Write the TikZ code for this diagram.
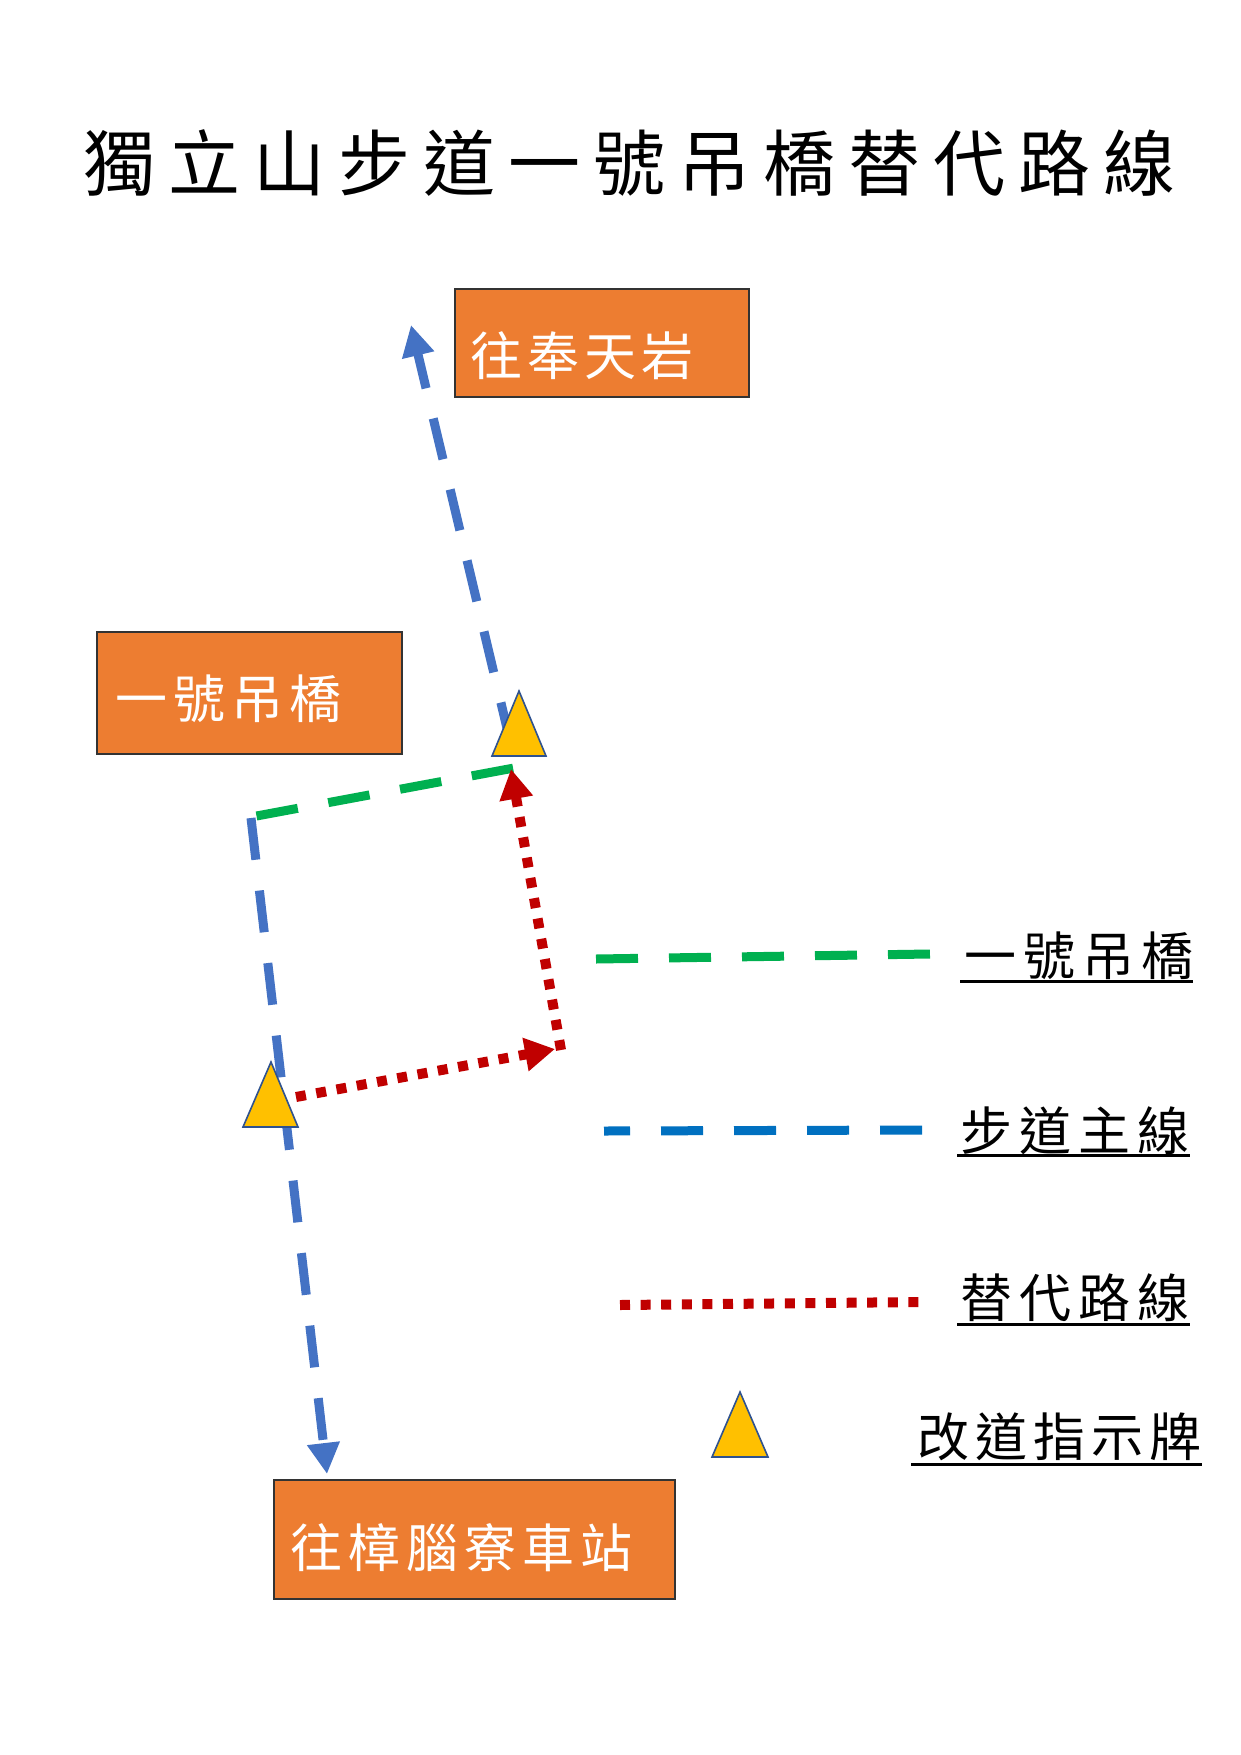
\documentclass[tikz,border=0pt]{standalone}
\usepackage{fontspec}
\newfontfamily\cjk{Noto Sans CJK TC}
\usetikzlibrary{arrows.meta,calc}
\definecolor{boxorange}{HTML}{ED7D31}
\definecolor{mainblue}{HTML}{4472C4}
\definecolor{legblue}{HTML}{0070C0}
\definecolor{brgreen}{HTML}{00B050}
\definecolor{altred}{HTML}{C00000}
\definecolor{signfill}{HTML}{FFC000}
\definecolor{signedge}{HTML}{2F528F}
\newlength\chpitch
\def\spreadloop#1{\ifx#1\relax\else\makebox[\chpitch][l]{#1}\expandafter\spreadloop\fi}
\newcommand\spreadtext[2]{\setlength\chpitch{#1}\spreadloop#2\relax}
\begin{document}
\begin{tikzpicture}[x=1pt,y=-1pt,
  box/.style={draw=black!80, line width=1.5pt, fill=boxorange, inner sep=0pt, anchor=north west},
  boxtext/.style={text=white, font=\cjk\fontsize{52}{60}\selectfont, inner sep=0pt, anchor=base west},
  legtext/.style={text=black, font=\cjk\fontsize{52}{60}\selectfont, inner sep=0pt, anchor=base west},
  titletext/.style={text=black, font=\cjk\fontsize{72}{84}\selectfont, inner sep=0pt, anchor=base west},
  mainpath/.style={draw=mainblue, line width=9pt, dash pattern=on 42pt off 31pt},
  legmain/.style={draw=legblue, line width=9pt, dash pattern=on 42pt off 31pt},
  bridgepath/.style={draw=brgreen, line width=9pt, dash pattern=on 42pt off 31pt},
  altpath/.style={draw=altred, line width=10pt, dash pattern=on 10pt off 10.6pt},
  bluetip/.style={-{Triangle[length=31pt,width=31pt]}},
  bluetipstart/.style={{Triangle[length=31pt,width=31pt]}-},
  redtip/.style={-{Triangle[length=30pt,width=32pt]}},
  signtri/.style={fill=signfill, draw=signedge, line width=1.6pt, line join=miter},
  uline/.style={draw=black, line width=3pt}]
\useasboundingbox (0,0) rectangle (1241,1755);
\fill[white] (0,0) rectangle (1241,1755);

% title
\node[titletext] (title) at (83,190) {\spreadtext{85pt}{獨立山步道一號吊橋替代路線}};

% boxes
\node[box, minimum width=294pt, minimum height=108pt] (fengtian) at (454,288) {};
\node[boxtext] (fengtiantxt) at (470,375) {\spreadtext{57pt}{往奉天岩}};
\node[box, minimum width=305pt, minimum height=122pt] (bridge) at (96,631) {};
\node[boxtext] (bridgetxt) at (115,718) {\spreadtext{58pt}{一號吊橋}};
\node[box, minimum width=401pt, minimum height=119pt] (station) at (273,1479) {};
\node[boxtext] (stationtxt) at (290,1567) {\spreadtext{58pt}{往樟腦寮車站}};

% route coordinates
\coordinate (upTip) at (411,325);
\coordinate (junction) at (516,766);
\coordinate (corner) at (251,818);
\coordinate (cornerG) at (256.5,816);
\coordinate (greenEnd) at (514,768);
\coordinate (downTip) at (327,1474);
\coordinate (altStart) at (296,1097);
\coordinate (altBendTip) at (555,1049);
\coordinate (altBend) at (561,1050);
\coordinate (altTip) at (511,769);

% routes
\draw[mainpath, dash phase=6pt, bluetipstart] (upTip) -- (junction);
\draw[mainpath, bluetip] (corner) -- (downTip);
\draw[bridgepath] (cornerG) -- (greenEnd);
\draw[altpath, redtip] (altStart) -- (altBendTip);
\draw[altpath, redtip] (altBend) -- (altTip);

% signs
\draw[signtri] (492,756) -- (519,691) -- (546,756) -- cycle;
\draw[signtri] (243,1127) -- (271,1062) -- (298,1127) -- cycle;

% legend
\coordinate (lgGa) at (596,959);
\coordinate (lgGb) at (930,954);
\coordinate (lgBa) at (922,1130);
\coordinate (lgBb) at (604,1131);
\coordinate (lgRa) at (620,1305);
\coordinate (lgRb) at (922,1302);
\draw[bridgepath] (lgGa) -- (lgGb);
\draw[legmain] (lgBa) -- (lgBb);
\draw[altpath] (lgRa) -- (lgRb);
\draw[signtri] (712,1457) -- (740,1392) -- (768,1457) -- cycle;

\node[legtext] (lg1) at (964,975) {\spreadtext{59pt}{一號吊橋}};
\node[legtext] (lg2) at (960,1150) {\spreadtext{59pt}{步道主線}};
\node[legtext] (lg3) at (960,1317) {\spreadtext{59pt}{替代路線}};
\node[legtext] (lg4) at (917,1456) {\spreadtext{58pt}{改道指示牌}};
\draw[uline] (960,981) -- (1193,981);
\draw[uline] (957,1155) -- (1190,1155);
\draw[uline] (957,1324) -- (1190,1324);
\draw[uline] (911,1464) -- (1202,1464);
\end{tikzpicture}
\end{document}
